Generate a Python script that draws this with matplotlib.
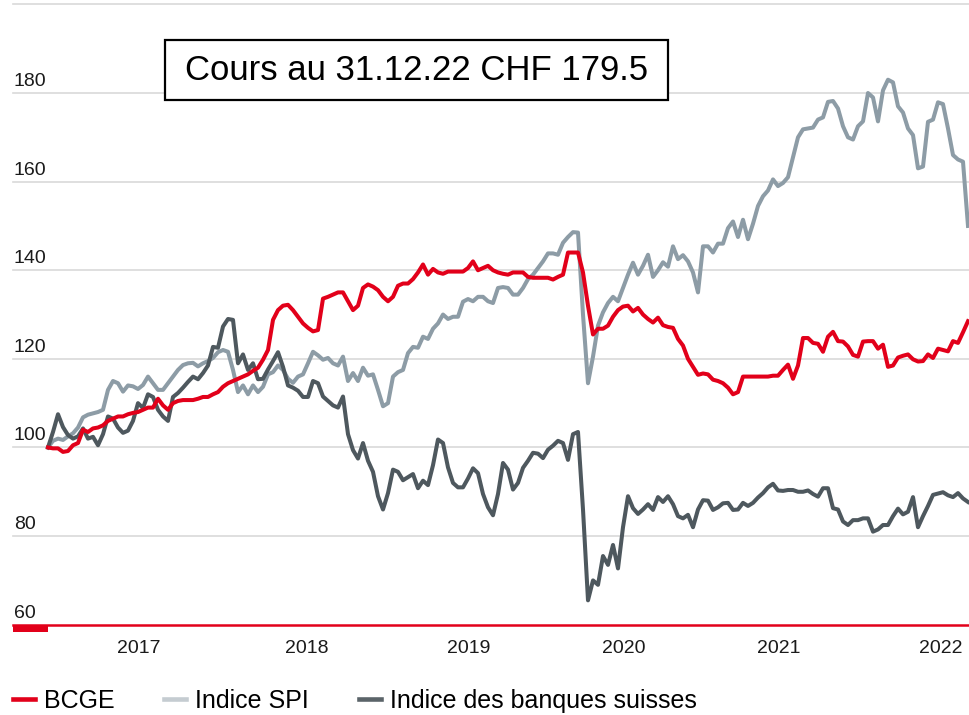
import matplotlib
matplotlib.use('Agg')
import matplotlib.pyplot as plt
import matplotlib.transforms as mtransforms
from matplotlib.lines import Line2D
from matplotlib.patches import Rectangle
import numpy as np

# ---- data (indexed, base 100), evenly spaced samples from mid-2016 to end-2022 ----
bcge = [100, 99.8, 99.8, 99, 99.2, 100.5, 101, 104, 103.5, 104.3,
        104.5, 105, 106, 106.5, 107, 107, 107.5, 107.8, 108, 108.5,
        109, 109, 111, 109.5, 108.5, 110, 110.5, 110.7, 110.7, 110.7,
        111, 111.4, 111.4, 112, 112.5, 113.7, 114.5, 115, 115.5, 116,
        116.5, 117.3, 118, 119.8, 122, 128.8, 131, 132, 132.2, 131,
        129.5, 128, 127, 126.2, 126.5, 133.6, 134, 134.5, 135, 135,
        133, 131, 132, 136, 136.8, 136.3, 135.5, 134, 133, 134,
        136.5, 137, 137, 138, 139.5, 141.3, 139, 140.3, 139.5, 139.2,
        139.7, 139.7, 139.7, 139.7, 140.5, 142, 140, 140.5, 141, 140,
        139.5, 139.2, 139, 139.5, 139.5, 139.5, 138.5, 138.3, 138.3, 138.3,
        138.3, 137.9, 138.5, 139, 144, 144, 144, 139.5, 132, 125.5,
        126.8, 126.8, 127.5, 129.5, 131, 131.8, 132, 130.7, 131.5, 130,
        129, 128.2, 129.3, 127.6, 127.2, 127, 124.5, 123, 120, 118.2,
        116.4, 116.7, 116.5, 115.3, 115, 114.5, 113.5, 112, 112.5, 116,
        116, 116, 116, 116, 116, 116.2, 116.2, 117.5, 118.7, 115.5,
        118.5, 124.7, 124.7, 123.6, 123.4, 121.6, 125, 126.1, 124, 123.9,
        122.8, 120.9, 120.5, 123.9, 124, 124, 122.3, 123.2, 118.2, 118.5,
        120.3, 120.7, 121, 119.9, 119.4, 119.5, 121, 120.2, 122.3, 122,
        121.7, 124, 123.6, 126, 128.5]
spi = [100, 101.5, 102, 101.7, 102.5, 103.2, 104.5, 106.8, 107.4, 107.7,
       108, 108.5, 113, 115, 114.5, 112.6, 114, 113.8, 113.2, 114.1,
       116, 114.5, 113, 113, 114.5, 116, 117.5, 118.6, 119, 119.1,
       118.3, 119, 119.5, 120.2, 121.5, 122, 121.6, 117.5, 112.5, 114,
       112, 114, 112.5, 113.7, 116.5, 117, 118.5, 117.5, 115.5, 114.6,
       116, 116.5, 119, 121.6, 120.8, 119.8, 120.2, 119, 118.5, 120.5,
       115, 116.8, 115, 118, 116.2, 116.5, 113, 109.3, 110, 116,
       117, 117.5, 121.3, 122.7, 122.5, 125, 124.5, 126.8, 128, 130,
       129, 129.5, 129.5, 132.9, 133.5, 133, 134, 134, 133, 132.6,
       136, 136.2, 136, 134.5, 134.5, 136, 138, 139, 140.5, 142,
       143.8, 143.8, 143.5, 146.2, 147.5, 148.6, 148.5, 130, 114.5, 120.5,
       127.5, 130.5, 132.6, 134, 133, 136, 139, 141.7, 139, 141,
       143.5, 138.5, 140, 141.8, 140.8, 145.4, 142.5, 143.4, 142, 139.5,
       135, 145.4, 145.4, 144, 146, 146, 149.5, 151, 147.5, 151.4,
       147, 150.5, 154.5, 156.7, 158, 160.5, 159, 159.7, 161, 165.5,
       170, 171.8, 172, 172.2, 174, 174.5, 178, 178.2, 176.5, 172.5,
       170, 169.5, 172.5, 173.6, 180, 179, 173.6, 180.6, 183, 182.4,
       177, 175.6, 172, 170.5, 163, 163.4, 173.5, 174, 177.9, 177.5,
       172, 166, 165, 164.5, 150]
banques = [100, 103.5, 107.5, 104.6, 102.8, 102, 102.5, 104.3, 102, 102.4,
           100.5, 103, 107, 106.5, 104.5, 103.3, 103.8, 106, 110, 108.9,
           112, 111.4, 108.5, 107, 106, 111.4, 112.3, 113.5, 114.8, 116,
           115.4, 116.8, 118.5, 122.7, 122.5, 127.3, 129, 128.8, 119, 121,
           117.5, 119, 115.4, 115.5, 117.6, 119.5, 121.5, 118.2, 114, 113.5,
           112.8, 111.4, 111.4, 115, 114.5, 111.5, 110.5, 109.5, 109, 111.5,
           103, 99.4, 97.5, 101, 97, 94.5, 89, 86, 89.7, 95,
           94.5, 92.6, 93.3, 94, 90.8, 92.5, 91.5, 96, 101.8, 101,
           95.5, 92, 91, 91, 93, 95.3, 94.2, 89.5, 86.5, 84.7,
           89.5, 96.5, 95, 90.5, 92, 95.4, 97, 98.8, 98.6, 97.6,
           99.5, 100.4, 101.5, 101, 97.2, 103, 103.5, 86, 65.5, 70,
           69, 75.5, 73.5, 78, 72.7, 82, 89, 86.3, 85, 86,
           87.2, 85.9, 88.8, 87.7, 89, 87.2, 84.5, 84, 84.8, 82,
           86, 88.1, 88, 85.9, 86.5, 87.4, 87.5, 85.9, 86, 87.5,
           86.8, 87.5, 88.7, 89.7, 91, 91.8, 90.3, 90.2, 90.4, 90.4,
           90, 90, 90.3, 89.5, 88.9, 90.8, 90.8, 86.3, 86, 83.3,
           82.5, 83.6, 83.6, 84, 84, 81, 81.5, 82.5, 82.5, 84.5,
           86.2, 84.9, 85.5, 88.8, 82, 84.5, 86.8, 89.3, 89.6, 89.9,
           89.2, 88.8, 89.7, 88.5, 87.7]
series_labels = ['BCGE', 'Indice SPI', 'Indice des banques suisses']
years = ['2017', '2018', '2019', '2020', '2021', '2022']
year_pos = [18.2, 51.8, 84.2, 115.2, 146.2, 178.6]
y_ticks = [60, 80, 100, 120, 140, 160, 180, 200]
title = 'Cours au 31.12.22 CHF 179.5'

RED = '#e2001a'
SPI_C = '#8d9ca6'
BANK_C = '#4e585e'
SANS = ['Liberation Sans', 'DejaVu Sans']

W, H = 969, 715
fig = plt.figure(figsize=(W / 100, H / 100), dpi=100)
fig.patch.set_facecolor('white')
ax = fig.add_axes([13 / W, 1 - 624.7 / H, (W - 13) / W, (624.7 - 4.4) / H])

ax.plot(np.arange(len(spi)), spi, color=SPI_C, lw=2.9, solid_joinstyle='round', zorder=3)
ax.plot(np.arange(len(banques)), banques, color=BANK_C, lw=2.9, solid_joinstyle='round', zorder=4)
ax.plot(np.arange(len(bcge)), bcge, color=RED, lw=2.9, solid_joinstyle='round', zorder=5)

ax.set_xlim(-7, 184.2)
ax.set_ylim(60, 200)
for s in ax.spines.values():
    s.set_visible(False)
for v in y_ticks[1:]:
    ax.axhline(v, color='#d9d9d9', lw=1.2, zorder=1, clip_on=False)
ax.axhline(60, color=RED, lw=1.8, zorder=6, clip_on=False)
ax.add_patch(Rectangle((0, -0.0118), 0.0366, 0.0118, transform=ax.transAxes,
                       facecolor=RED, edgecolor='none', clip_on=False, zorder=6))

ax.set_yticks([])
trans = mtransforms.blended_transform_factory(ax.transAxes, ax.transData)
off = mtransforms.ScaledTranslation(0, 3 / 100, fig.dpi_scale_trans)
for v in y_ticks:
    ax.text(0.001, v, str(v), transform=trans + off, ha='left', va='bottom',
            fontsize=14, family=SANS, color='#1a1a1a')

ax.set_xticks(year_pos, years)
for lab in ax.get_xticklabels():
    lab.set_family(SANS)
    lab.set_fontsize(14)
    lab.set_color('#1a1a1a')
ax.tick_params(axis='x', length=0, pad=11)

handles = [Line2D([], [], color=RED, lw=3.3),
           Line2D([], [], color='#c5ccd1', lw=3.3),
           Line2D([], [], color='#5b6469', lw=3.3)]
fig.legend(handles, series_labels, loc='center left',
           bbox_to_anchor=(13 / W, 1 - 701 / H), ncol=3, frameon=False,
           prop={'family': SANS, 'size': 18}, handlelength=0.88,
           handletextpad=0.35, columnspacing=2.0, borderpad=0, borderaxespad=0)

box = Rectangle((165 / W, 1 - 100 / H), 503 / W, 60 / H, transform=fig.transFigure,
                facecolor='white', edgecolor='black', lw=1.6, zorder=10)
fig.add_artist(box)
fig.text(416.5 / W, 1 - 71 / H, title, ha='center', va='center', fontsize=25,
         family=SANS, zorder=11)

fig.savefig('out.png', dpi=100)
